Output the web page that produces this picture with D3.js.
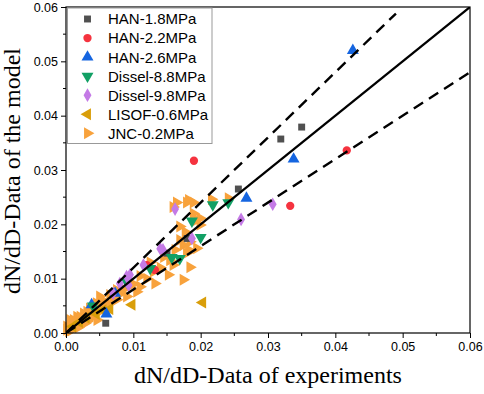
<!DOCTYPE html>
<html><head><meta charset="utf-8">
<script src="https://cdn.jsdelivr.net/npm/d3@7"></script>
<style>body{margin:0;background:#fff}svg{display:block}</style>
</head><body>
<svg id="c" width="484" height="394"></svg>
<script>
const seriesNames = ["HAN-1.8MPa","HAN-2.2MPa","HAN-2.6MPa","Dissel-8.8MPa","Dissel-9.8MPa","LISOF-0.6MPa","JNC-0.2MPa"];
const han18 = [[0.0319,0.0357],[0.0350,0.0379],[0.0256,0.0265],[0.0059,0.0018],[0.0150,0.0147],[0.0180,0.0174]];
const han22 = [[0.0190,0.0317],[0.0417,0.0336],[0.0333,0.0234],[0.0120,0.0125],[0.0132,0.0116]];
const han26 = [[0.0426,0.0520],[0.0338,0.0320],[0.0268,0.0248],[0.0060,0.0035],[0.0038,0.0052],[0.0073,0.0073]];
const dissel88 = [[0.0218,0.0236],[0.0241,0.0240],[0.0200,0.0176],[0.0187,0.0206],[0.0169,0.0137],[0.0125,0.0119],[0.0090,0.0094],[0.0157,0.0139],[0.0040,0.0050]];
const dissel98 = [[0.0307,0.0237],[0.0260,0.0209],[0.0162,0.0228],[0.0187,0.0174],[0.0144,0.0153],[0.0115,0.0125],[0.0095,0.0107],[0.0080,0.0091],[0.0093,0.0088],[0.0070,0.0073],[0.0090,0.0104],[0.0140,0.0155]];
const lisof06 = [[0.0098,0.0052],[0.0203,0.0056],[0.0065,0.0044],[0.0010,0.0012],[0.0020,0.0020],[0.0030,0.0028],[0.0045,0.0035],[0.0055,0.0042]];
const jnc02 = [[0.0164,0.0240],[0.0179,0.0240],[0.0189,0.0240],[0.0216,0.0246],[0.0241,0.0248],[0.0159,0.0232],[0.0182,0.0245],
  [0.0189,0.0220],[0.0194,0.0208],[0.0199,0.0199],[0.0177,0.0186],[0.0184,0.0168],[0.0174,0.0162],[0.0182,0.0153],[0.0169,0.0171],
  [0.0199,0.0211],[0.0169,0.0196],[0.0162,0.0153],[0.0194,0.0156],[0.0179,0.0147],[0.0154,0.0134],[0.0159,0.0125],[0.0184,0.0121],
  [0.0130,0.0113],[0.0152,0.0107],[0.0174,0.0098],[0.0132,0.0091],[0.0110,0.0085],[0.0105,0.0076],[0.0090,0.0067],[0.0075,0.0061],
  [0.0055,0.0048],[0.0041,0.0042],[0.0026,0.0036],[0.0016,0.0030],[0.0006,0.0024],[0.0001,0.0012],
  [0.0050,0.0067],[0.0055,0.0058],[0.0031,0.0039],[0.0021,0.0030],[0.0011,0.0024],[0.0006,0.0012],[0.0001,0.0006],
  [0.0046,0.0024],[0.0031,0.0021],[0.0021,0.0015],[0.0011,0.0009],[0.0060,0.0048],[0.0065,0.0070],[0.0075,0.0079],
  [0.0035,0.0030],[0.0040,0.0035],[0.0025,0.0025],[0.0015,0.0018],[0.0008,0.0005],[0.0004,0.0003],[0.0018,0.0010],
  [0.0028,0.0018],[0.0038,0.0028],[0.0048,0.0038],[0.0062,0.0055],[0.0070,0.0064],[0.0080,0.0072],[0.0085,0.0080],
  [0.0100,0.0090],[0.0120,0.0100],[0.0140,0.0120],[0.0145,0.0140],[0.0125,0.0130],[0.0110,0.0105],[0.0035,0.0045],[0.0045,0.0055]];
const colors = ["#505050","#F5333F","#1565E0","#12A065","#C47AE6","#D99E0A","#F8A23C"];
const xTicks = [0,0.01,0.02,0.03,0.04,0.05,0.06];
const yTicks = [0,0.01,0.02,0.03,0.04,0.05,0.06];
const xTitle = "dN/dD-Data of experiments";
const yTitle = "dN/dD-Data of the model";
const fitLines = [{k:1,end:0.06,dash:null},{k:1.2,end:0.049,dash:"11,7"},{k:0.8,end:0.06,dash:"11,7"}];

const svg = d3.select("#c");
const L=66,R=470,T=7,B=333;
const x = d3.scaleLinear().domain([0,0.06]).range([L,R]);
const y = d3.scaleLinear().domain([0,0.06]).range([B,T]);

const shapes = [
  {type:d3.symbolSquare,size:48,rot:0},
  {type:d3.symbolCircle,size:54,rot:0},
  {type:d3.symbolTriangle,size:62,rot:0},
  {type:d3.symbolTriangle,size:62,rot:180},
  {type:d3.symbolDiamond,size:54,rot:0},
  {type:d3.symbolTriangle,size:62,rot:-90},
  {type:d3.symbolTriangle,size:62,rot:90}
];
const allData = [han18,han22,han26,dissel88,dissel98,lisof06,jnc02];
const drawOrder = [6,5,0,1,2,3,4];

svg.append("defs").append("clipPath").attr("id","pc").append("rect")
  .attr("x",L).attr("y",T).attr("width",R-L).attr("height",B-T);

const gPts = svg.append("g");
drawOrder.forEach(i=>{
  const s = shapes[i];
  const sym = d3.symbol().type(s.type).size(s.size);
  gPts.selectAll(null).data(allData[i]).enter().append("path")
    .attr("d",sym)
    .attr("transform",d=>`translate(${x(d[0])},${y(d[1])}) rotate(${s.rot})`)
    .attr("fill",colors[i]);
});

const gl = svg.append("g").attr("clip-path","url(#pc)");
fitLines.forEach(f=>{
  gl.append("line").attr("x1",x(0)).attr("y1",y(0)).attr("x2",x(f.end)).attr("y2",y(f.end*f.k))
    .attr("stroke","#000").attr("stroke-width",f.dash?2.4:2.2)
    .attr("stroke-dasharray",f.dash);
});

const xAxis = d3.axisBottom(x).tickValues(xTicks).tickFormat(d3.format(".2f")).tickSize(5).tickPadding(4);
const yAxis = d3.axisLeft(y).tickValues(yTicks).tickFormat(d3.format(".2f")).tickSize(5).tickPadding(3);
const gx = svg.append("g").attr("transform",`translate(0,${B})`).call(xAxis);
const gy = svg.append("g").attr("transform",`translate(${L},0)`).call(yAxis);
[gx,gy].forEach(g=>{
  g.select(".domain").remove();
  g.selectAll("text").attr("font-family","Liberation Sans, Arial, sans-serif").attr("font-size",12.5).attr("fill","#000");
  g.selectAll("line").attr("stroke","#000");
});
const minor = d3.range(0.005,0.06,0.01);
svg.append("g").selectAll("line").data(minor).enter().append("line")
  .attr("x1",d=>x(d)).attr("x2",d=>x(d)).attr("y1",B).attr("y2",B+3).attr("stroke","#000");
svg.append("g").selectAll("line").data(minor).enter().append("line")
  .attr("y1",d=>y(d)).attr("y2",d=>y(d)).attr("x1",L).attr("x2",L-3).attr("stroke","#000");
svg.append("rect").attr("x",L).attr("y",T).attr("width",R-L).attr("height",B-T)
  .attr("fill","none").attr("stroke","#000").attr("stroke-width",1.2);

svg.append("text").attr("x",(L+R)/2).attr("y",383).attr("text-anchor","middle")
  .attr("font-family","Liberation Serif, Times New Roman, serif").attr("font-size",24).text(xTitle);
svg.append("text").attr("transform",`translate(20,171) rotate(-90)`).attr("text-anchor","middle")
  .attr("font-family","Liberation Serif, Times New Roman, serif").attr("font-size",24).text(yTitle);

const lg = svg.append("g");
lg.append("rect").attr("x",67.5).attr("y",8).attr("width",144.5).attr("height",135.5)
  .attr("fill","#fff").attr("stroke","#999").attr("stroke-width",1);
seriesNames.forEach((n,i)=>{
  const cy = 19 + i*19.05;
  const s = shapes[i];
  lg.append("path").attr("d",d3.symbol().type(s.type).size(s.size))
    .attr("transform",`translate(87.5,${cy}) rotate(${s.rot})`).attr("fill",colors[i]);
  lg.append("text").attr("x",108).attr("y",cy).attr("dy","0.36em")
    .attr("font-family","Liberation Sans, Arial, sans-serif").attr("font-size",15).text(n);
});
</script>
</body></html>
